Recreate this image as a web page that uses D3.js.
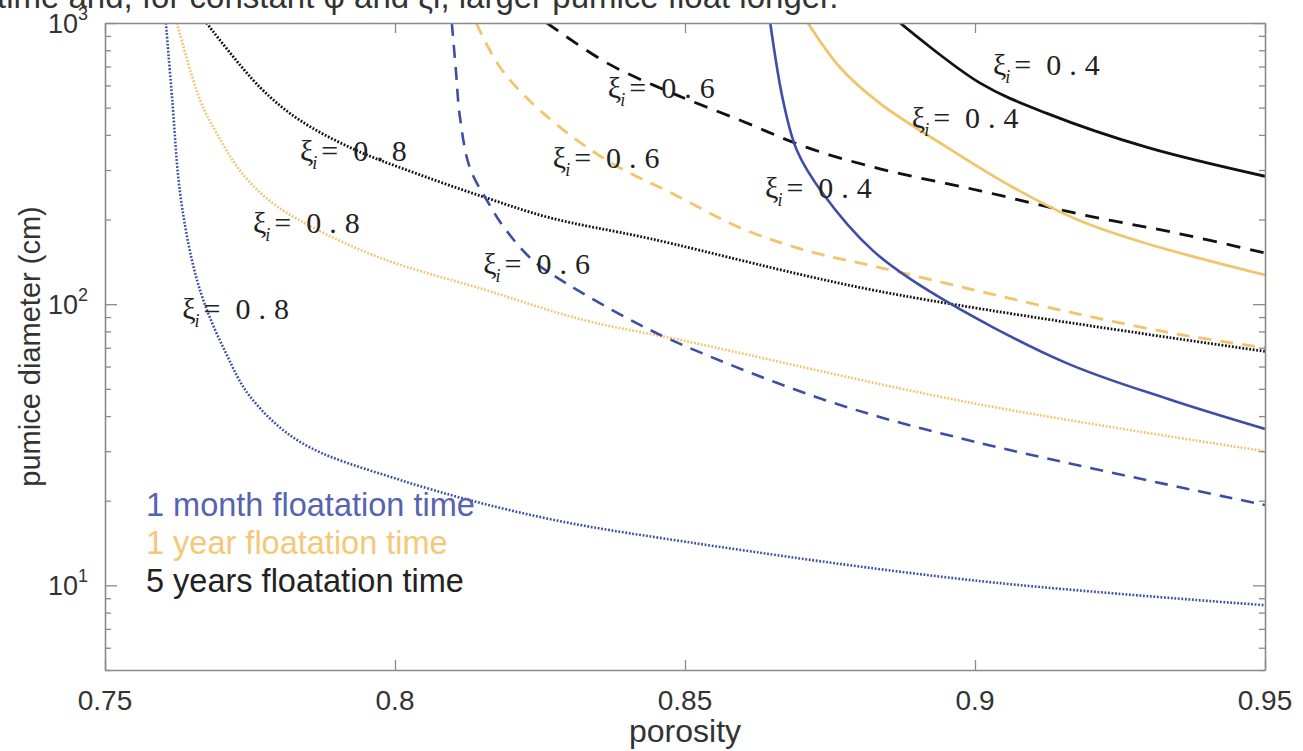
<!DOCTYPE html>
<html>
<head>
<meta charset="utf-8">
<script src="https://cdn.jsdelivr.net/npm/d3@7"></script>
<style>
  body { margin: 0; background: #fff; }
  svg { display: block; }
</style>
</head>
<body>
<svg id="chart"></svg>
<script>
// [porosity, diameter cm]
const month04 = [[0.8647,1000],[0.8669,531],[0.8693,352],[0.8738,247],[0.8824,155],[0.8922,111],[0.9152,62.5],[0.9333,46],[0.95,36]];
const month06 = [[0.8098,1000],[0.8105,679],[0.8112,462],[0.8129,306],[0.8159,233],[0.819,185],[0.8238,143],[0.8297,118],[0.841,87],[0.85,71],[0.875,45],[0.9,32.4],[0.95,19.3]];
const month08 = [[0.7605,1000],[0.7616,531],[0.7629,253],[0.765,143],[0.7672,100],[0.7707,68],[0.775,47],[0.7836,32.4],[0.8009,23.7],[0.825,17.5],[0.85,14.3],[0.9,10.4],[0.95,8.5]];
const year04 = [[0.8712,1000],[0.8767,696],[0.8836,518],[0.8952,361],[0.9066,260],[0.9181,198],[0.9297,164],[0.95,127]];
const year06 = [[0.814,1000],[0.8181,696],[0.825,489],[0.8366,324],[0.8479,247],[0.8595,187],[0.871,155],[0.8836,135],[0.9009,111],[0.9181,92],[0.9353,78],[0.95,70]];
const year08 = [[0.7624,1000],[0.7664,531],[0.7693,404],[0.7733,298],[0.7784,233],[0.7853,190],[0.7979,145],[0.8152,113],[0.8324,88],[0.85,74],[0.9,44.3],[0.95,30]];
const five04 = [[0.8871,1000],[0.9009,611],[0.9124,477],[0.9297,361],[0.95,285]];
const five06 = [[0.8262,1000],[0.8366,720],[0.8479,562],[0.8595,451],[0.871,361],[0.8836,303],[0.9009,253],[0.9181,209],[0.9353,178],[0.95,152]];
const five08 = [[0.7675,1000],[0.7767,591],[0.7836,451],[0.7934,352],[0.8038,291],[0.8152,241],[0.8267,203],[0.844,171],[0.8836,111],[0.95,68]];

const xTickValues = [0.75, 0.8, 0.85, 0.9, 0.95];
const xTickLabels = ["0.75", "0.8", "0.85", "0.9", "0.95"];
const yMajorValues = [10, 100, 1000];
const yExponents = ["1", "2", "3"];
const legendLabels = ["1 month floatation time", "1 year floatation time", "5 years floatation time"];
const xiValues = ["0.4", "0.6", "0.8"];

const width = 1303, height = 751;
const margin = {top: 23, right: 38, bottom: 81, left: 105};
const blue = "#3d4ea6", orange = "#f2c46c", black = "#111";

const curves = [
  {data: month08, color: blue, dash: "1.8,1.7", w: 2.6},
  {data: year08, color: orange, dash: "1.8,1.7", w: 2.6},
  {data: five08, color: black, dash: "1.8,1.7", w: 2.8},
  {data: month06, color: blue, dash: "13,9", w: 2.6},
  {data: year06, color: orange, dash: "13,9", w: 2.8},
  {data: five06, color: black, dash: "14,10", w: 2.8},
  {data: month04, color: blue, dash: null, w: 2.6},
  {data: year04, color: orange, dash: null, w: 2.8},
  {data: five04, color: black, dash: null, w: 2.8}
];

// where each xi label sits (left edge, digit centre) in data units
const xiLabels = [
  {p: 0.9031, d: 708, xi: xiValues[0]},
  {p: 0.8891, d: 458, xi: xiValues[0]},
  {p: 0.8638, d: 258, xi: xiValues[0]},
  {p: 0.8367, d: 586, xi: xiValues[1]},
  {p: 0.8272, d: 332, xi: xiValues[1]},
  {p: 0.8152, d: 139, xi: xiValues[1]},
  {p: 0.7836, d: 352, xi: xiValues[2]},
  {p: 0.7755, d: 195, xi: xiValues[2]},
  {p: 0.7633, d: 96, xi: xiValues[2]}
];

const svg = d3.select("#chart")
              .attr("width", width)
              .attr("height", height)
              .attr("viewBox", `0 0 ${width} ${height}`);

const x = d3.scaleLinear().domain([0.75, 0.95]).range([margin.left, width - margin.right]);
const y = d3.scaleLog().domain([5, 1000]).range([height - margin.bottom, margin.top]);

// caption line cut off at the top
svg.append("text")
   .attr("x", -3)
   .attr("y", 8)
   .attr("font-family", "Liberation Sans, Arial, sans-serif")
   .attr("font-size", 33)
   .attr("fill", "#333")
   .text("time and, for constant φ and ξi, larger pumice float longer.");

svg.append("clipPath").attr("id", "plot-clip")
   .append("rect")
   .attr("x", x(0.75)).attr("y", y(1000))
   .attr("width", x(0.95) - x(0.75)).attr("height", y(5) - y(1000));

const line = d3.line()
               .x(d => x(d[0]))
               .y(d => y(d[1]))
               .curve(d3.curveCatmullRom.alpha(0.5));

const g = svg.append("g").attr("clip-path", "url(#plot-clip)");
g.selectAll("path")
 .data(curves)
 .join("path")
 .attr("d", d => line(d.data))
 .attr("fill", "none")
 .attr("stroke", d => d.color)
 .attr("stroke-width", d => d.w)
 .attr("stroke-dasharray", d => d.dash);

// frame + inward ticks
const axisColor = "#8a8a8a";
const yTicks = y.ticks();
const isMajor = v => yMajorValues.includes(v);

const bottomAxis = svg.append("g")
   .attr("transform", `translate(0,${y(5)})`)
   .call(d3.axisBottom(x).tickValues(xTickValues).tickSize(-10).tickSizeOuter(0).tickFormat(""));
const topAxis = svg.append("g")
   .attr("transform", `translate(0,${y(1000)})`)
   .call(d3.axisTop(x).tickValues(xTickValues).tickSize(-10).tickSizeOuter(0).tickFormat(""));
const leftAxis = svg.append("g")
   .attr("transform", `translate(${x(0.75)},0)`)
   .call(d3.axisLeft(y).tickValues(yTicks).tickSizeOuter(0).tickFormat(""));
const rightAxis = svg.append("g")
   .attr("transform", `translate(${x(0.95)},0)`)
   .call(d3.axisRight(y).tickValues(yTicks).tickSizeOuter(0).tickFormat(""));

leftAxis.selectAll(".tick line").attr("x2", d => isMajor(d) ? 12 : 6);
rightAxis.selectAll(".tick line").attr("x2", d => isMajor(d) ? -12 : -6);

[bottomAxis, topAxis, leftAxis, rightAxis].forEach(a => {
  a.select(".domain").attr("stroke", axisColor).attr("stroke-width", 1.6);
  a.selectAll(".tick line").attr("stroke", axisColor).attr("stroke-width", 1.3);
});

// x tick labels
svg.append("g")
   .selectAll("text")
   .data(xTickValues)
   .join("text")
   .attr("x", d => x(d))
   .attr("y", y(5) + 40)
   .attr("text-anchor", "middle")
   .attr("font-family", "Liberation Sans, Arial, sans-serif")
   .attr("font-size", 28)
   .attr("fill", "#333")
   .text((d, i) => xTickLabels[i]);

// y tick labels 10^n
const yLab = svg.append("g")
   .selectAll("text")
   .data(yMajorValues)
   .join("text")
   .attr("x", x(0.75) - 17)
   .attr("y", d => y(d) + 10)
   .attr("text-anchor", "end")
   .attr("font-family", "Liberation Sans, Arial, sans-serif")
   .attr("font-size", 27)
   .attr("fill", "#333");
yLab.append("tspan").text("10");
yLab.append("tspan").attr("dy", -13).attr("font-size", 18).text((d, i) => yExponents[i]);

// axis titles
svg.append("text")
   .attr("x", x(0.85))
   .attr("y", 742)
   .attr("text-anchor", "middle")
   .attr("font-family", "Liberation Sans, Arial, sans-serif")
   .attr("font-size", 32)
   .attr("fill", "#333")
   .text("porosity");

svg.append("text")
   .attr("transform", `translate(40,${(y(5) + y(1000)) / 2}) rotate(-90)`)
   .attr("text-anchor", "middle")
   .attr("font-family", "Liberation Sans, Arial, sans-serif")
   .attr("font-size", 29)
   .attr("fill", "#333")
   .text("pumice diameter (cm)");

// legend
svg.append("g")
   .selectAll("text")
   .data(legendLabels)
   .join("text")
   .attr("x", 146)
   .attr("y", (d, i) => 516 + i * 38)
   .attr("font-family", "Liberation Sans, Arial, sans-serif")
   .attr("font-size", 32.5)
   .attr("fill", (d, i) => i === 0 ? "#5563b0" : i === 1 ? "#f4c877" : "#222")
   .text(d => d);

// xi labels on the curves
const xi = svg.append("g")
   .selectAll("text")
   .data(xiLabels)
   .join("text")
   .attr("x", d => x(d.p))
   .attr("y", d => y(d.d) + 10)
   .attr("font-family", "Liberation Serif, Times New Roman, serif")
   .attr("font-size", 30)
   .attr("fill", "#222");
xi.append("tspan").text("ξ");
xi.append("tspan").attr("dy", 8).attr("dx", -1).attr("font-size", 18).attr("font-style", "italic").text("i");
xi.append("tspan").attr("dy", -8).attr("dx", 4).text("=");
xi.append("tspan").attr("dx", 15).attr("letter-spacing", 8).text(d => d.xi);
</script>
</body>
</html>
